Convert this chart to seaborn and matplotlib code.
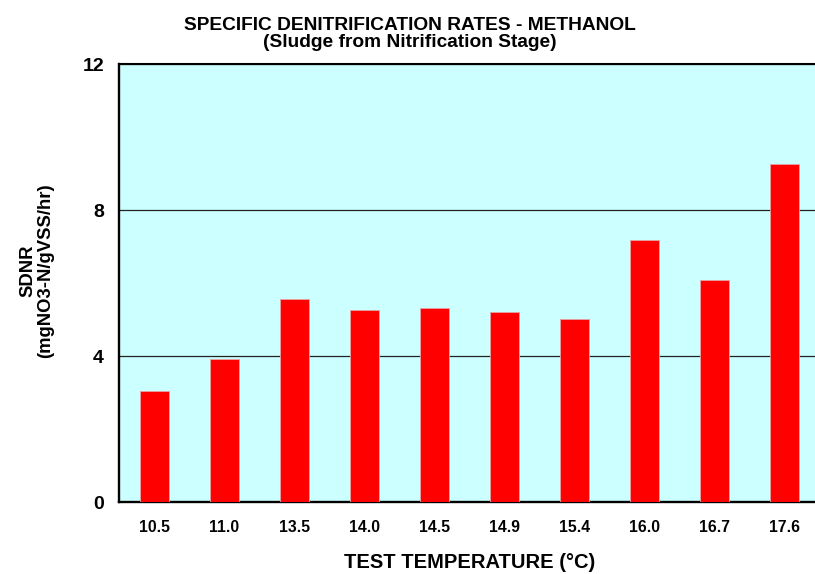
import numpy as np
import pandas as pd
import matplotlib
matplotlib.use("Agg")
import matplotlib.pyplot as plt
import seaborn as sns

# Test temperatures (°C) and specific denitrification rates (mgNO3-N/gVSS/hr)
temperatures = ["10.5", "11.0", "13.5", "14.0", "14.5", "14.9", "15.4", "16.0", "16.7", "17.6"]
sdnr = [3.05, 3.93, 5.56, 5.26, 5.31, 5.22, 5.02, 7.18, 6.08, 9.26]
y_ticks = [0, 4, 8, 12]

df = pd.DataFrame({"temp": temperatures, "sdnr": sdnr})

sns.set_style("white")
plt.rcParams["font.family"] = ["Liberation Sans", "DejaVu Sans"]
plt.rcParams["font.weight"] = "bold"
plt.rcParams["text.color"] = "black"
plt.rcParams["axes.labelcolor"] = "black"
plt.rcParams["xtick.color"] = "black"
plt.rcParams["ytick.color"] = "black"

W, H = 815, 574
fig = plt.figure(figsize=(W / 100, H / 100), dpi=100)
# plot frame runs slightly past the right edge of the figure
ax = fig.add_axes([119.3 / W, (H - 502.3) / H, 700 / W, 438.3 / H])
ax.set_facecolor("#CCFFFF")

sns.barplot(data=df, x="temp", y="sdnr", order=temperatures, color="#FF0000",
            saturation=1, width=0.42, edgecolor="#e6a3a3", linewidth=0.6, ax=ax, zorder=3)

ax.set_xlim(-0.5, len(temperatures) - 0.5)
ax.set_ylim(0, 12)
ax.set_yticks(y_ticks)
ax.set_yticklabels([str(v) for v in y_ticks], fontsize=14, fontweight="bold", color="black")
ax.set_xticks(range(len(temperatures)))
ax.set_xticklabels(temperatures, fontsize=11.3, fontweight="bold", color="black")
ax.set_xticks(np.arange(0.5, len(temperatures) - 0.5, 1), minor=True)

ax.tick_params(axis="x", which="major", length=0, pad=13)
ax.tick_params(axis="x", which="minor", direction="in", length=5.5, width=1.6, color="black")
ax.tick_params(axis="y", which="major", direction="in", length=5, width=1.6, color="black", pad=11)

ax.yaxis.grid(True, color="#222222", linewidth=0.9, zorder=1)
ax.xaxis.grid(False)
ax.set_axisbelow(True)

for side in ["left", "bottom", "top", "right"]:
    ax.spines[side].set_visible(True)
    ax.spines[side].set_color("black")
    ax.spines[side].set_linewidth(1.7)
ax.spines["top"].set_linewidth(1.5)

ax.set_xlabel("")
ax.set_ylabel("")

ax.text(0.5, (502.3 - 562) / 438.3, "TEST TEMPERATURE (°C)", transform=ax.transAxes,
        ha="center", va="center", fontsize=14.5, fontweight="bold", color="black")
fig.text(37 / W, 1 - 271 / H, "SDNR\n(mgNO3-N/gVSS/hr)", rotation=90,
         ha="center", va="center", fontsize=13.3, fontweight="bold", linespacing=1.05,
         color="black")
fig.text(410 / W, 1 - 34 / H,
         "SPECIFIC DENITRIFICATION RATES - METHANOL\n(Sludge from Nitrification Stage)",
         ha="center", va="center", fontsize=13.8, fontweight="bold", linespacing=1.05,
         color="black")

fig.savefig("out.png", dpi=100)
